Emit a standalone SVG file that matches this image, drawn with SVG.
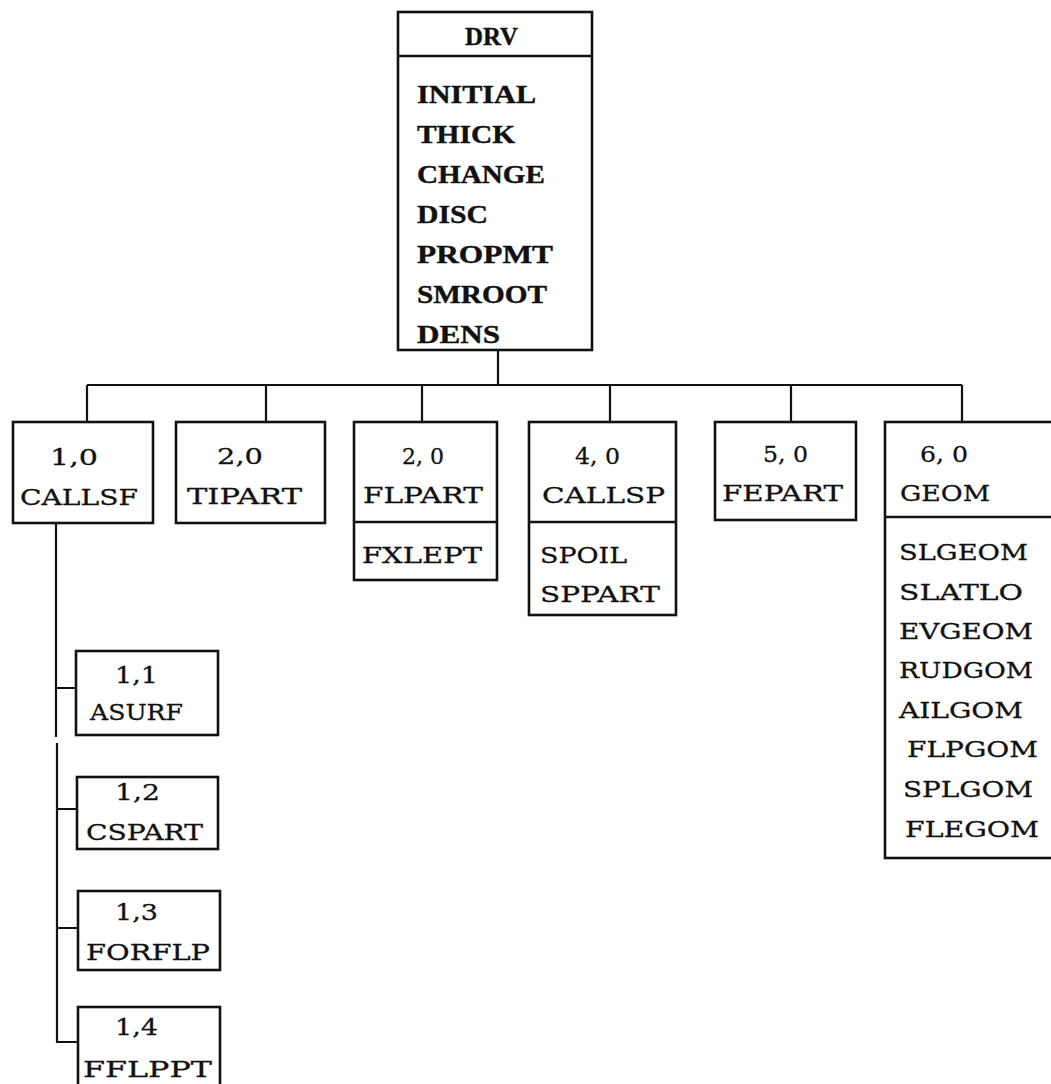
<svg xmlns="http://www.w3.org/2000/svg" width="1051" height="1084" viewBox="0 0 1051 1084">
<style>
.box{fill:#fff;stroke:#111;stroke-width:2.6}
.div{stroke:#111;stroke-width:2.4;fill:none}
.ln{stroke:#111;stroke-width:2.2;fill:none}
.tw{font-family:"DejaVu Serif",serif;font-size:23px;fill:#111;stroke:#111;stroke-width:0.3}
.dv{font-family:"Liberation Serif",serif;font-weight:bold;font-size:26px;fill:#111;stroke:#111;stroke-width:0.4}
</style>
<rect width="1051" height="1084" fill="#fff"/>
<g id="connectors">
<path class="ln" d="M498 350V385M87 385H962M87 385V422M266 385V422M422 385V422M610 385V422M791 385V422M962 385V422"/>
<path class="ln" d="M56 523V737M57 743V1042H78M57 688H76M57 809H77M57 928H78"/>
</g>
<g id="DRV">
<rect class="box" x="398" y="12" width="194" height="338"/>
<path class="div" d="M398 56H592"/>
<text class="dv" x="465" y="45" textLength="53" lengthAdjust="spacingAndGlyphs">DRV</text>
<text class="dv" x="417" y="103" textLength="119" lengthAdjust="spacingAndGlyphs">INITIAL</text>
<text class="dv" x="417" y="143" textLength="98" lengthAdjust="spacingAndGlyphs">THICK</text>
<text class="dv" x="417" y="183" textLength="128" lengthAdjust="spacingAndGlyphs">CHANGE</text>
<text class="dv" x="417" y="223" textLength="71" lengthAdjust="spacingAndGlyphs">DISC</text>
<text class="dv" x="417" y="263" textLength="136" lengthAdjust="spacingAndGlyphs">PROPMT</text>
<text class="dv" x="417" y="303" textLength="130" lengthAdjust="spacingAndGlyphs">SMROOT</text>
<text class="dv" x="417" y="343" textLength="83" lengthAdjust="spacingAndGlyphs">DENS</text>
</g>
<g id="CALLSF">
<rect class="box" x="13" y="422" width="140" height="101"/>
<text class="tw" x="50" y="465" textLength="48" lengthAdjust="spacingAndGlyphs">1,0</text>
<text class="tw" x="20" y="505" textLength="118" lengthAdjust="spacingAndGlyphs">CALLSF</text>
</g>
<g id="TIPART">
<rect class="box" x="176" y="422" width="149" height="101"/>
<text class="tw" x="217" y="464" textLength="46" lengthAdjust="spacingAndGlyphs">2,0</text>
<text class="tw" x="187" y="504" textLength="115" lengthAdjust="spacingAndGlyphs">TIPART</text>
</g>
<g id="FLPART">
<rect class="box" x="354" y="422" width="143" height="158"/>
<path class="div" d="M354 522H497"/>
<text class="tw" x="402" y="464" textLength="42" lengthAdjust="spacingAndGlyphs">2, 0</text>
<text class="tw" x="363" y="503" textLength="120" lengthAdjust="spacingAndGlyphs">FLPART</text>
<text class="tw" x="362" y="563" textLength="120" lengthAdjust="spacingAndGlyphs">FXLEPT</text>
</g>
<g id="CALLSP">
<rect class="box" x="529" y="422" width="147" height="193"/>
<path class="div" d="M529 522H676"/>
<text class="tw" x="575" y="464" textLength="45" lengthAdjust="spacingAndGlyphs">4, 0</text>
<text class="tw" x="542" y="503" textLength="123" lengthAdjust="spacingAndGlyphs">CALLSP</text>
<text class="tw" x="540" y="563" textLength="87" lengthAdjust="spacingAndGlyphs">SPOIL</text>
<text class="tw" x="540" y="602" textLength="120" lengthAdjust="spacingAndGlyphs">SPPART</text>
</g>
<g id="FEPART">
<rect class="box" x="715" y="422" width="141" height="98"/>
<text class="tw" x="763" y="462" textLength="45" lengthAdjust="spacingAndGlyphs">5, 0</text>
<text class="tw" x="722" y="501" textLength="121" lengthAdjust="spacingAndGlyphs">FEPART</text>
</g>
<g id="GEOM">
<rect class="box" x="885" y="422" width="180" height="436"/>
<path class="div" d="M885 517H1060"/>
<text class="tw" x="920" y="462" textLength="48" lengthAdjust="spacingAndGlyphs">6, 0</text>
<text class="tw" x="900" y="501" textLength="90" lengthAdjust="spacingAndGlyphs">GEOM</text>
<text class="tw" x="899" y="560" textLength="129" lengthAdjust="spacingAndGlyphs">SLGEOM</text>
<text class="tw" x="899" y="600" textLength="124" lengthAdjust="spacingAndGlyphs">SLATLO</text>
<text class="tw" x="899" y="639" textLength="134" lengthAdjust="spacingAndGlyphs">EVGEOM</text>
<text class="tw" x="899" y="678" textLength="134" lengthAdjust="spacingAndGlyphs">RUDGOM</text>
<text class="tw" x="899" y="718" textLength="124" lengthAdjust="spacingAndGlyphs">AILGOM</text>
<text class="tw" x="907" y="757" textLength="131" lengthAdjust="spacingAndGlyphs">FLPGOM</text>
<text class="tw" x="903" y="797" textLength="130" lengthAdjust="spacingAndGlyphs">SPLGOM</text>
<text class="tw" x="905" y="837" textLength="134" lengthAdjust="spacingAndGlyphs">FLEGOM</text>
</g>
<g id="ASURF">
<rect class="box" x="76" y="651" width="142" height="84"/>
<text class="tw" x="115" y="683" textLength="43" lengthAdjust="spacingAndGlyphs">1,1</text>
<text class="tw" x="90" y="720" textLength="93" lengthAdjust="spacingAndGlyphs">ASURF</text>
</g>
<g id="CSPART">
<rect class="box" x="77" y="777" width="141" height="72"/>
<text class="tw" x="115" y="800" textLength="45" lengthAdjust="spacingAndGlyphs">1,2</text>
<text class="tw" x="86" y="840" textLength="117" lengthAdjust="spacingAndGlyphs">CSPART</text>
</g>
<g id="FORFLP">
<rect class="box" x="78" y="891" width="142" height="79"/>
<text class="tw" x="115" y="920" textLength="43" lengthAdjust="spacingAndGlyphs">1,3</text>
<text class="tw" x="86" y="960" textLength="124" lengthAdjust="spacingAndGlyphs">FORFLP</text>
</g>
<g id="FFLPPT">
<rect class="box" x="78" y="1007" width="142" height="90"/>
<text class="tw" x="115" y="1035" textLength="43" lengthAdjust="spacingAndGlyphs">1,4</text>
<text class="tw" x="83" y="1077" textLength="129" lengthAdjust="spacingAndGlyphs">FFLPPT</text>
</g>
</svg>
